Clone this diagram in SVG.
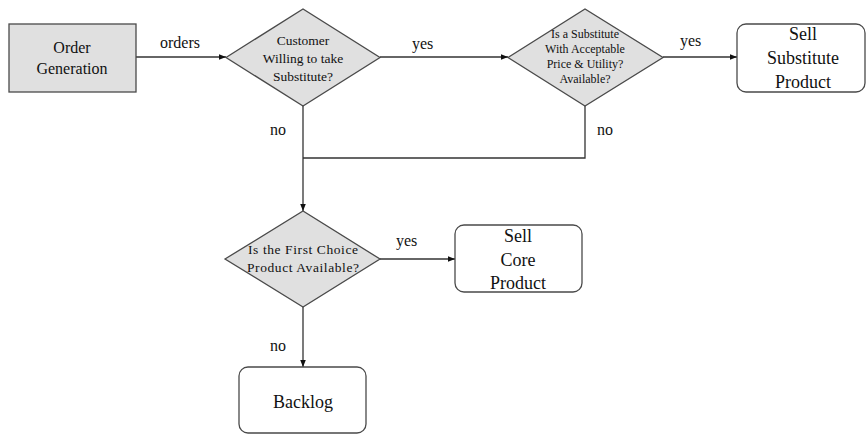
<svg xmlns="http://www.w3.org/2000/svg" width="866" height="434" viewBox="0 0 866 434">
  <style>
    .node { stroke: #4a4a4a; stroke-width: 1.3; }
    .grey { fill: #e0e0e0; }
    .white { fill: #ffffff; }
    .edge { fill: none; stroke: #333; stroke-width: 1.3; }
    .lbl { font-size: 16px; }
    .big { font-size: 18px; text-anchor: middle; }
    .dt { text-anchor: middle; }
  </style>
  <defs>
    <marker id="arrow" viewBox="0 0 10 10" refX="10" refY="5" markerWidth="7" markerHeight="7" orient="auto" markerUnits="userSpaceOnUse">
      <path d="M0,1 L10,5 L0,9 z" fill="#111"/>
    </marker>
  </defs>
  <rect width="866" height="434" fill="#ffffff"/>

  <g font-family="Liberation Serif, Times New Roman, Tinos, Noto Serif, DejaVu Serif, serif" fill="#111">
  <!-- connectors -->
  <g id="connectors">
    <line class="edge" x1="136" y1="57" x2="226" y2="57" marker-end="url(#arrow)"/>
    <line class="edge" x1="380" y1="57" x2="508" y2="57" marker-end="url(#arrow)"/>
    <line class="edge" x1="663" y1="57" x2="737" y2="57" marker-end="url(#arrow)"/>
    <polyline class="edge" points="585,106 585,158 303,158"/>
    <line class="edge" x1="303" y1="106" x2="303" y2="211" marker-end="url(#arrow)"/>
    <line class="edge" x1="380" y1="259" x2="455" y2="259" marker-end="url(#arrow)"/>
    <line class="edge" x1="303" y1="307" x2="303" y2="367" marker-end="url(#arrow)"/>
    <text class="lbl" x="160" y="48">orders</text>
    <text class="lbl" x="412" y="49">yes</text>
    <text class="lbl" x="680" y="46">yes</text>
    <text class="lbl" x="270" y="135">no</text>
    <text class="lbl" x="597" y="135">no</text>
    <text class="lbl" x="396" y="246">yes</text>
    <text class="lbl" x="270" y="351">no</text>
  </g>

  <g id="order-generation">
    <rect class="node grey" x="9" y="24" width="127" height="68"/>
    <text class="dt" x="72" y="53" font-size="16">Order</text>
    <text class="dt" x="72" y="74" font-size="16">Generation</text>
  </g>

  <g id="willing-substitute">
    <polygon class="node grey" points="226,57.5 303,9 380,57.5 303,106"/>
    <text class="dt" x="303" y="45" font-size="13.5">Customer</text>
    <text class="dt" x="303" y="63" font-size="13.5">Willing to take</text>
    <text class="dt" x="303" y="81" font-size="13.5">Substitute?</text>
  </g>

  <g id="substitute-available">
    <polygon class="node grey" points="508,57.5 585,9 663,57.5 585,106"/>
    <text class="dt" x="585" y="38" font-size="12">Is a Substitute</text>
    <text class="dt" x="585" y="53" font-size="12">With Acceptable</text>
    <text class="dt" x="585" y="68" font-size="12">Price &amp; Utility?</text>
    <text class="dt" x="585" y="83" font-size="12">Available?</text>
  </g>

  <g id="sell-substitute">
    <rect class="node white" x="737" y="24" width="128" height="68" rx="9"/>
    <text class="big" x="803" y="40">Sell</text>
    <text class="big" x="803" y="64">Substitute</text>
    <text class="big" x="803" y="88">Product</text>
  </g>

  <g id="first-choice-available">
    <polygon class="node grey" points="225,259 303,211 380,259 303,307"/>
    <text class="dt" x="303" y="254" font-size="13.5" textLength="110" lengthAdjust="spacing">Is the First Choice</text>
    <text class="dt" x="303" y="272" font-size="13.5" textLength="112" lengthAdjust="spacing">Product Available?</text>
  </g>

  <g id="sell-core">
    <rect class="node white" x="455" y="225" width="127" height="67" rx="9"/>
    <text class="big" x="518" y="242">Sell</text>
    <text class="big" x="518" y="266">Core</text>
    <text class="big" x="518" y="289">Product</text>
  </g>

  <g id="backlog">
    <rect class="node white" x="239" y="367" width="127" height="66" rx="9"/>
    <text class="big" x="303" y="408">Backlog</text>
  </g>
  </g>
</svg>
